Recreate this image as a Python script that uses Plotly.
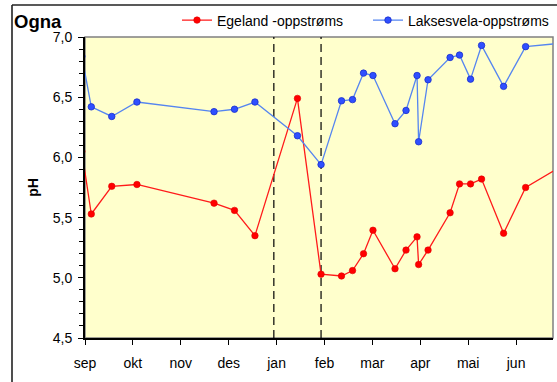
import pandas as pd
import plotly.graph_objects as go

# Sampling dates (one point on each side lies just outside the visible window)
dates = [
    "2004-08-30", "2004-09-05", "2004-09-18", "2004-10-04", "2004-11-22",
    "2004-12-05", "2004-12-18", "2005-01-14", "2005-01-29", "2005-02-11",
    "2005-02-18", "2005-02-25", "2005-03-03", "2005-03-17", "2005-03-24",
    "2005-03-31", "2005-04-01", "2005-04-07", "2005-04-21", "2005-04-27",
    "2005-05-04", "2005-05-11", "2005-05-25", "2005-06-08", "2005-07-02",
]

# pH, Egeland upstream
egeland = [
    6.05, 5.53, 5.76, 5.775, 5.62,
    5.56, 5.35, 6.49, 5.03, 5.015,
    5.06, 5.20, 5.395, 5.075, 5.23,
    5.34, 5.11, 5.23, 5.54, 5.78,
    5.78, 5.82, 5.37, 5.75, 5.935,
]

# pH, Laksesvela upstream
laksesvela = [
    6.84, 6.42, 6.34, 6.46, 6.38,
    6.40, 6.46, 6.18, 5.94, 6.47,
    6.48, 6.70, 6.68, 6.28, 6.39,
    6.68, 6.13, 6.645, 6.83, 6.85,
    6.65, 6.93, 6.59, 6.92, 6.95,
]

month_labels = ["sep", "okt", "nov", "des", "jan", "feb", "mar", "apr", "mai", "jun"]
event_dates = ["2004-12-30", "2005-01-29"]

season_start = pd.Timestamp("2004-09-01")
month_len = pd.Timedelta(days=365.25 / 12)
tick_vals = [season_start + k * month_len for k in range(len(month_labels))]
x_end = season_start + pd.Timedelta(days=297.4)

FONT = "Liberation Sans, Arial, sans-serif"

fig = go.Figure()

fig.add_trace(go.Scatter(
    x=dates, y=egeland, name="Egeland -oppstrøms",
    mode="lines+markers",
    line=dict(color="#FF1A1A", width=1.3),
    marker=dict(color="#FF0000", size=6.5, line=dict(color="#E00000", width=0.6)),
    cliponaxis=True,
))
fig.add_trace(go.Scatter(
    x=dates, y=laksesvela, name="Laksesvela-oppstrøms",
    mode="lines+markers",
    line=dict(color="#5585F0", width=1.3),
    marker=dict(color="#2F4FFF", size=6.5, line=dict(color="#1A2FCC", width=0.8)),
    cliponaxis=True,
))

shapes = [
    # plot-area frame (grey top/right edges)
    dict(type="rect", xref="paper", yref="paper", x0=0, x1=1, y0=0, y1=1,
         line=dict(color="#808080", width=1.5), layer="below"),
]
for d in event_dates:
    shapes.append(dict(type="line", xref="x", yref="paper", x0=d, x1=d, y0=0, y1=1,
                       line=dict(color="black", width=1.2, dash="8px,5px"), layer="below"))

# outer chart border (left and top)
L, R, T, B = 85, 4, 37, 44
W, H = 557, 382
pw, ph = W - L - R, H - T - B
bx = (12 - L) / pw
by = (H - B - 5) / ph
shapes.append(dict(type="line", xref="paper", yref="paper", x0=bx, x1=bx, y0=by, y1=-0.3,
                   line=dict(color="#222222", width=1.6)))
shapes.append(dict(type="line", xref="paper", yref="paper", x0=bx, x1=1.2, y0=by, y1=by,
                   line=dict(color="#222222", width=1.6)))

fig.update_layout(
    width=W, height=H,
    margin=dict(l=L, r=R, t=T, b=B, autoexpand=False),
    paper_bgcolor="white",
    plot_bgcolor="#FFFFCC",
    separators=", ",
    font=dict(family=FONT, size=14, color="black"),
    shapes=shapes,
    title=dict(text="<b>Ogna</b>", x=14 / W, xanchor="left", xref="container",
               y=1 - 21.5 / H, yanchor="middle", yref="container",
               font=dict(family=FONT, size=18.5, color="black")),
    legend=dict(orientation="h", x=(177 - L) / pw, xanchor="left",
                y=1 + (T - 20.5) / ph, yanchor="middle",
                bgcolor="rgba(0,0,0,0)", font=dict(family=FONT, size=14),
                entrywidth=146, tracegroupgap=0),
    showlegend=True,
)

fig.update_xaxes(
    type="date", range=[season_start, x_end],
    tickmode="array", tickvals=tick_vals, ticktext=month_labels,
    ticks="outside", ticklen=5, tickcolor="black", tickwidth=1,
    showline=True, linecolor="black", linewidth=1.5,
    showgrid=False, zeroline=False, ticklabelstandoff=6,
    tickfont=dict(family=FONT, size=14),
)
fig.update_yaxes(
    range=[4.5, 7.0], dtick=0.5, tick0=4.5, tickformat=".1f",
    ticks="outside", ticklen=5, tickcolor="black", tickwidth=1,
    minor=dict(dtick=0.1, ticks="outside", ticklen=4, tickcolor="black", tickwidth=1),
    showline=True, linecolor="black", linewidth=1.8,
    showgrid=False, zeroline=False, ticklabelstandoff=3,
    title=dict(text="<b>pH</b>", font=dict(family=FONT, size=14), standoff=11),
    tickfont=dict(family=FONT, size=14),
)

fig.write_html("out.html")
